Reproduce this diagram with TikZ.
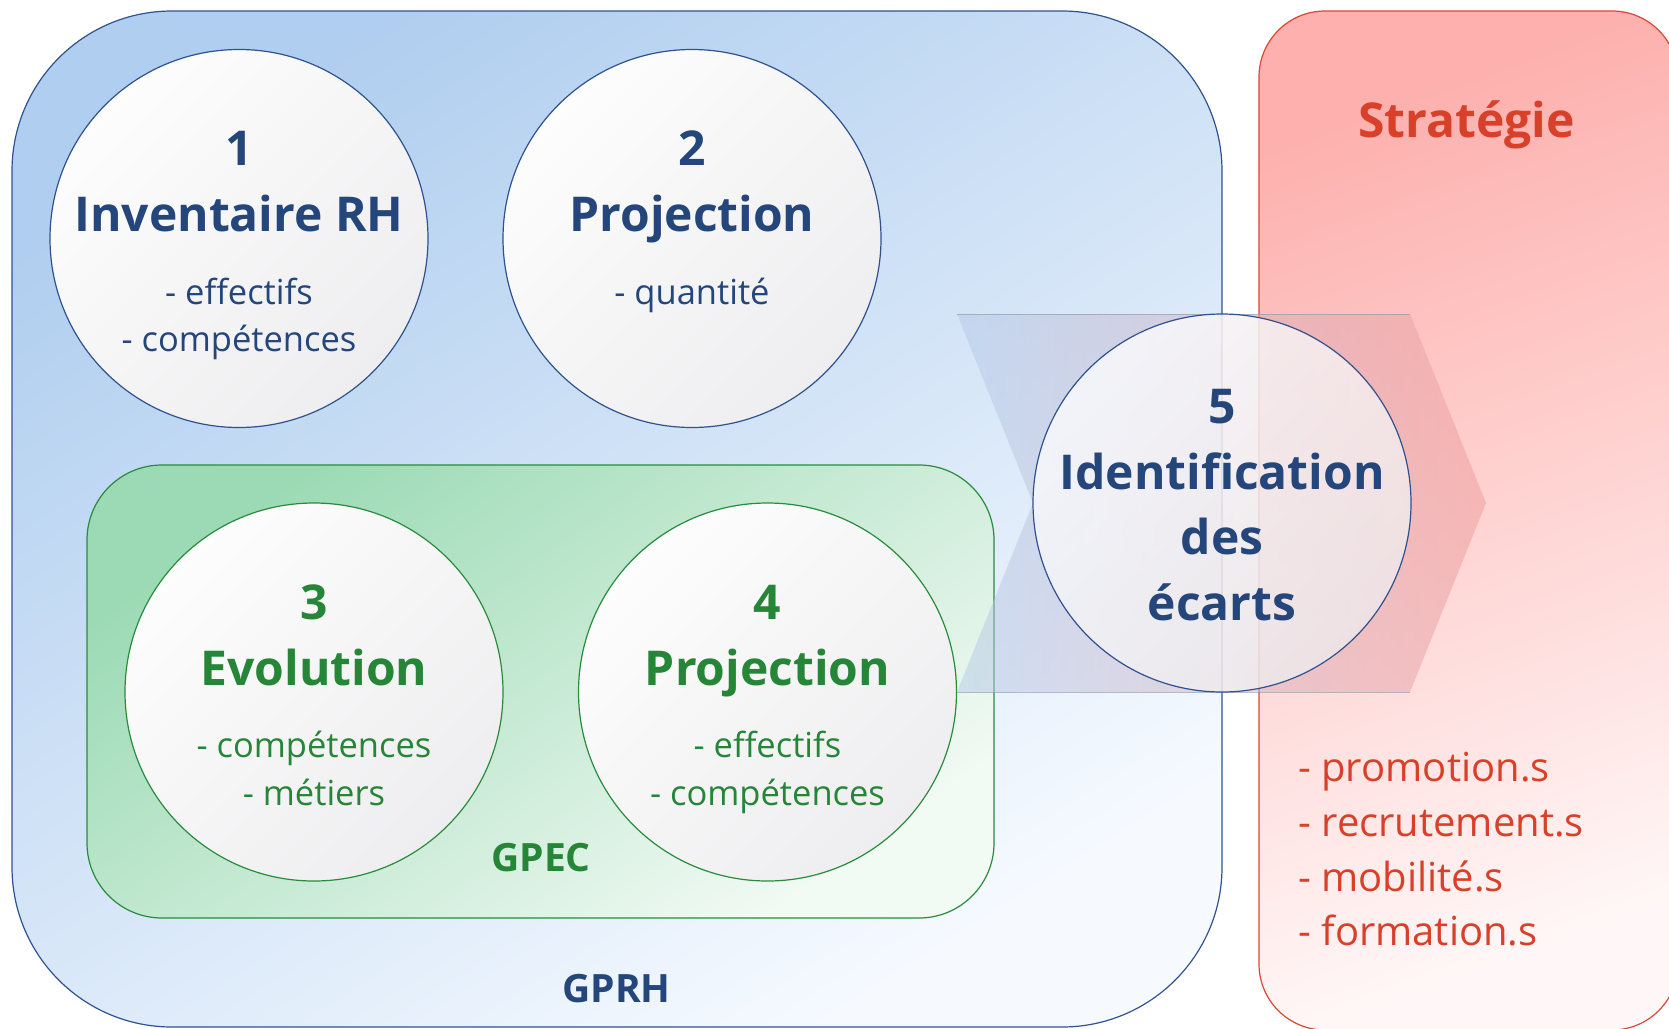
\documentclass[tikz,border=0pt]{standalone}
\usepackage{fontspec}
\setmainfont{Open Sans}
\definecolor{tblue}{RGB}{36,70,122}
\definecolor{tgreen}{RGB}{38,134,56}
\definecolor{tred}{RGB}{216,64,42}
\definecolor{lblue}{RGB}{47,82,143}
\definecolor{lgreen}{RGB}{40,140,60}
\definecolor{lred}{RGB}{220,70,50}
\definecolor{bluetl}{RGB}{176,206,239}
\definecolor{bluebr}{RGB}{246,250,255}
\definecolor{greentl}{RGB}{155,218,180}
\definecolor{greenbr}{RGB}{242,250,244}
\definecolor{redtl}{RGB}{253,176,173}
\definecolor{redbr}{RGB}{255,247,247}
\definecolor{circtl}{RGB}{253,253,253}
\definecolor{circbr}{RGB}{238,237,239}
\definecolor{chevl}{RGB}{180,202,234}
\definecolor{chevr}{RGB}{240,155,155}
\definecolor{chevedge}{RGB}{140,150,170}
\begin{document}
\begin{tikzpicture}[x=1pt,y=-1pt,
  box/.style={rectangle, inner sep=0pt, line width=1.2pt},
  circ/.style={circle, minimum size=378pt, inner sep=0pt, line width=1.2pt,
    top color=circtl, bottom color=circbr, shading angle=45},
  ttlb/.style={anchor=base, inner sep=0pt, text=tblue, font=\fontsize{48}{58}\selectfont\bfseries},
  subb/.style={anchor=base, inner sep=0pt, text=tblue, font=\fontsize{34.5}{40}\selectfont},
  ttlg/.style={anchor=base, inner sep=0pt, text=tgreen, font=\fontsize{48}{58}\selectfont\bfseries},
  subg/.style={anchor=base, inner sep=0pt, text=tgreen, font=\fontsize{34.5}{40}\selectfont},
  redl/.style={anchor=base west, inner sep=0pt, text=tred, font=\fontsize{40}{48}\selectfont},
  lbl/.style={anchor=base, inner sep=0pt, font=\fontsize{39}{46}\selectfont\bfseries}
]
\useasboundingbox (0,0) rectangle (1669,1028);
\clip (0,0) rectangle (1669,1028);

% outer boxes
\node[box, draw=lblue, top color=bluetl, bottom color=bluebr, shading angle=32, rounded corners=160pt,
  minimum width=1210pt, minimum height=1016pt] (gprh) at (617,519) {};
\node[box, draw=lred, top color=redtl, bottom color=redbr, shading angle=20, rounded corners=66pt,
  minimum width=419pt, minimum height=1019pt] (strat) at (1468.5,520.5) {};
\node[box, draw=lgreen, top color=greentl, bottom color=greenbr, shading angle=35, rounded corners=75pt,
  minimum width=907pt, minimum height=453pt] (gpec) at (540.5,691.5) {};

% circles 1-4
\node[circ, draw=lblue] (c1) at (239,238.5) {};
\node[circ, draw=lblue] (c2) at (692,238.5) {};
\node[circ, draw=lgreen] (c3) at (314,692) {};
\node[circ, draw=lgreen] (c4) at (767.5,692) {};

% chevron
\coordinate (chA) at (957,314);
\coordinate (chB) at (1410,314);
\coordinate (chT) at (1486,503);
\coordinate (chC) at (1410,692);
\coordinate (chD) at (957,692);
\coordinate (chN) at (1033,503);
\path[left color=chevl, right color=chevr, fill opacity=0.5]
  (chA) -- (chB) -- (chT) -- (chC) -- (chD) -- (chN) -- cycle;
\draw[chevedge, line width=1pt, opacity=0.6] (chA) -- (chB);
\draw[chevedge, line width=1pt, opacity=0.6] (chD) -- (chC);

% circle 5
\node[circle, minimum size=378pt, inner sep=0pt, line width=1.2pt, draw=lblue,
  top color=white, bottom color=circbr, shading angle=45, fill opacity=0.75] (c5) at (1222,503) {};

% texts circle 1
\node[ttlb] (t1a) at (239,165.7) {1};
\node[ttlb] (t1b) at (239,231.7) {Inventaire RH};
\node[subb] (t1c) at (239,304) {- effectifs};
\node[subb] (t1d) at (239,351.7) {- compétences};
% circle 2
\node[ttlb] (t2a) at (692,165.7) {2};
\node[ttlb] (t2b) at (692,231.7) {Projection};
\node[subb] (t2c) at (692,304) {- quantité};
% circle 3
\node[ttlg] (t3a) at (314,619.2) {3};
\node[ttlg] (t3b) at (314,685.2) {Evolution};
\node[subg] (t3c) at (314,757.5) {- compétences};
\node[subg] (t3d) at (314,805.2) {- métiers};
% circle 4
\node[ttlg] (t4a) at (767.5,619.2) {4};
\node[ttlg] (t4b) at (767.5,685.2) {Projection};
\node[subg] (t4c) at (767.5,757.5) {- effectifs};
\node[subg] (t4d) at (767.5,805.2) {- compétences};
% circle 5
\node[ttlb] (t5a) at (1222,423.3) {5};
\node[ttlb] (t5b) at (1222,489.3) {Identification};
\node[ttlb] (t5c) at (1222,554) {des};
\node[ttlb] (t5d) at (1222,620) {écarts};

% labels
\node[lbl, text=tgreen] (lgpec) at (541,871.7) {GPEC};
\node[lbl, text=tblue] (lgprh) at (616.5,1002.7) {GPRH};
\node[anchor=base, inner sep=0pt, text=tred, font=\fontsize{48}{58}\selectfont\bfseries] (lstrat) at (1466.5,137.3) {Stratégie};

% red list
\node[redl] (r1) at (1298,781.7) {- promotion.s};
\node[redl] (r2) at (1298,836.7) {- recrutement.s};
\node[redl] (r3) at (1298,891.7) {- mobilité.s};
\node[redl] (r4) at (1298,945.7) {- formation.s};
\end{tikzpicture}
\end{document}
